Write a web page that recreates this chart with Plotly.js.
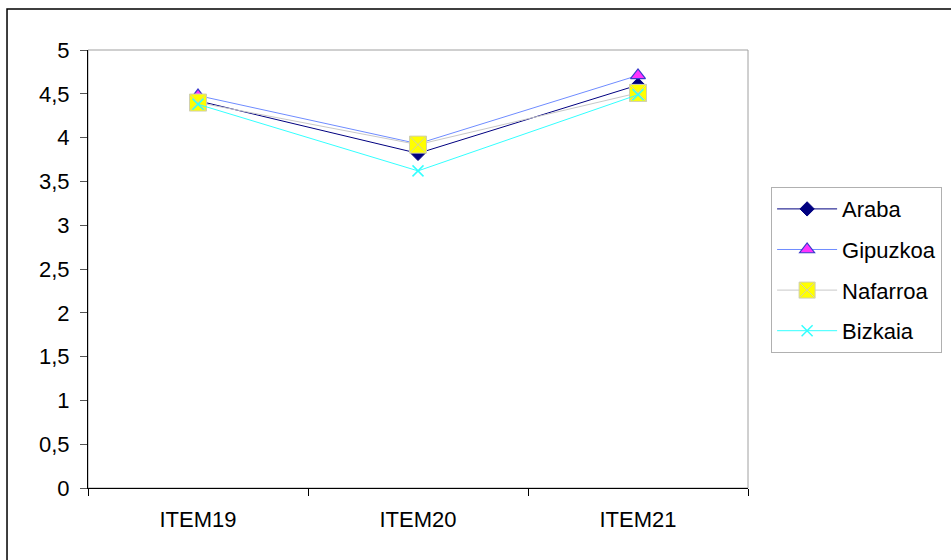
<!DOCTYPE html>
<html>
<head>
<meta charset="utf-8">
<script src="https://cdn.plot.ly/plotly-3.0.1.min.js"></script>
<style>html,body{margin:0;padding:0;background:#fff;}#chart{width:951px;height:560px;}</style>
</head>
<body>
<div id="chart"></div>
<script>
const categories = ["ITEM19", "ITEM20", "ITEM21"];
const araba    = [4.42, 3.82, 4.60];
const gipuzkoa = [4.48, 3.93, 4.71];
const nafarroa = [4.40, 3.92, 4.51];
const bizkaia  = [4.38, 3.62, 4.49];
const yTicks = [0, 0.5, 1, 1.5, 2, 2.5, 3, 3.5, 4, 4.5, 5];

const FONT = "Liberation Sans, Arial, sans-serif";
const FS = 22;

const traces = [
  {name: "Araba", x: categories, y: araba, type: "scatter", mode: "lines+markers", legendgroup: "a",
   line: {color: "#000080", width: 1},
   marker: {symbol: "diamond", size: 11, color: "#000080", line: {color: "#000080", width: 1}}},
  {name: "Gipuzkoa", x: categories, y: gipuzkoa, type: "scatter", mode: "lines+markers", legendgroup: "b",
   line: {color: "#6f8cff", width: 1},
   marker: {symbol: "triangle-up", size: 13, color: "#ff33ff", line: {color: "#3a3acc", width: 1.2}}},
  {name: "Nafarroa", x: categories, y: nafarroa, type: "scatter", mode: "lines+markers", legendgroup: "c",
   line: {color: "#c8c8c8", width: 1},
   marker: {symbol: "square-x", size: 17, color: "#ffff00", line: {color: "#d0d0b0", width: 1}}},
  {name: "Bizkaia", x: categories, y: bizkaia, type: "scatter", mode: "lines+markers", legendgroup: "d",
   line: {color: "#33ffff", width: 1},
   marker: {symbol: "x-thin-open", size: 11, color: "#33ffff", line: {color: "#33ffff", width: 1.5}}}
];

const layout = {
  width: 951, height: 560,
  margin: {l: 88, r: 203, t: 50, b: 72, autoexpand: false},
  paper_bgcolor: "#ffffff", plot_bgcolor: "#ffffff",
  separators: ",.",
  font: {family: FONT, size: FS, color: "#000"},
  showlegend: true,
  legend: {
    x: 1.035, y: 0.687, xanchor: "left", yanchor: "top",
    bordercolor: "#b0b0b0", borderwidth: 1, bgcolor: "#fff",
    font: {family: FONT, size: FS, color: "#000"},
    tracegroupgap: 9, itemwidth: 60
  },
  xaxis: {
    type: "category", range: [-0.5, 2.5],
    showline: true, linecolor: "#000", linewidth: 1,
    ticks: "outside", tickson: "boundaries", ticklen: 7, tickcolor: "#000",
    showgrid: false, zeroline: false, ticklabelstandoff: 12,
    tickfont: {family: FONT, size: FS, color: "#000"}
  },
  yaxis: {
    range: [0, 5], tickmode: "array", tickvals: yTicks,
    showline: true, linecolor: "#000", linewidth: 1,
    ticks: "outside", ticklen: 7, tickcolor: "#555",
    showgrid: false, zeroline: false, ticklabelstandoff: 6,
    tickfont: {family: FONT, size: FS, color: "#000"}
  },
  shapes: [
    {type: "rect", xref: "paper", yref: "paper", x0: 0, x1: 1, y0: 0, y1: 1,
     line: {color: "#a0a0a0", width: 1}, layer: "below"},
    {type: "rect", xref: "paper", yref: "paper", x0: -0.1227, x1: 1.33, y0: -0.2, y1: 1.0936,
     line: {color: "#000", width: 1.5}, layer: "below"}
  ]
};

Plotly.newPlot("chart", traces, layout, {displayModeBar: false, staticPlot: true});
</script>
</body>
</html>
